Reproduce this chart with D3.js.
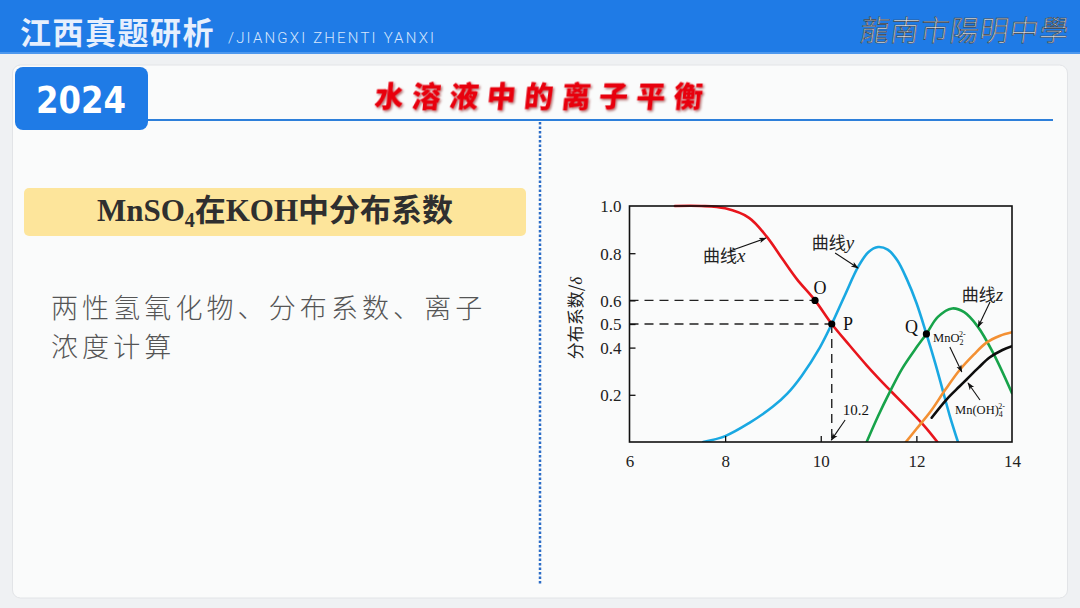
<!DOCTYPE html>
<html><head><meta charset="utf-8">
<script src="https://cdn.jsdelivr.net/npm/d3@7"></script>
<style>
html,body{margin:0;padding:0;background:#eff1f3;}
svg{display:block;}
</style></head>
<body>
<svg id="c" width="1080" height="608"></svg>
<script>
// ---------- DATA ----------
const xTicks = [6, 8, 10, 12, 14];
const yTicks = [0.2, 0.4, 0.5, 0.6, 0.8, 1.0];

const curveX_pH = [6.95, 7.5, 8.0, 8.5, 8.87, 9.2, 9.5, 9.88, 10.23, 10.6, 10.96, 11.2, 11.48, 11.75, 12.0, 12.2, 12.44];
const curveX_d  = [1.0, 1.0, 0.99, 0.95, 0.87, 0.775, 0.69, 0.6, 0.5, 0.41, 0.325, 0.272, 0.213, 0.157, 0.104, 0.06, 0];

const curveY_pH = [7.54, 8.0, 8.5, 9.0, 9.3, 9.6, 9.98, 10.23, 10.5, 10.79, 11.0, 11.2, 11.4, 11.6, 11.8, 12.0, 12.21, 12.4, 12.55, 12.7, 12.87];
const curveY_d  = [0, 0.025, 0.08, 0.15, 0.205, 0.28, 0.40, 0.5, 0.62, 0.745, 0.805, 0.826, 0.815, 0.77, 0.69, 0.59, 0.458, 0.33, 0.22, 0.11, 0];

const curveZ_pH = [10.96, 11.2, 11.44, 11.7, 12.0, 12.21, 12.45, 12.75, 13.0, 13.28, 13.6, 14.0];
const curveZ_d  = [0, 0.11, 0.21, 0.31, 0.40, 0.458, 0.53, 0.566, 0.55, 0.49, 0.38, 0.207];

const mno2_pH = [11.78, 12.0, 12.3, 12.6, 12.91, 13.2, 13.46, 13.75, 14.0];
const mno2_d  = [0, 0.055, 0.13, 0.22, 0.306, 0.37, 0.42, 0.45, 0.465];

const mnoh4_pH = [12.32, 12.63, 12.9, 13.05, 13.3, 13.53, 13.8, 14.0];
const mnoh4_d  = [0.103, 0.18, 0.235, 0.265, 0.315, 0.358, 0.39, 0.406];

const pointNames = ["O", "P", "Q"];
const point_pH = [9.88, 10.23, 12.21];
const point_d  = [0.6, 0.5, 0.458];

// ---------- PAGE ----------
const svg = d3.select("#c");
const CJK = "'Noto Sans CJK SC','Noto Sans CJK TC',sans-serif";
const SERIF = "'Liberation Serif','Times New Roman','Noto Serif CJK SC','Noto Sans CJK SC',serif";

svg.append("rect").attr("x",0).attr("y",0).attr("width",1080).attr("height",608).attr("fill","#eff1f3");
// header
svg.append("rect").attr("x",0).attr("y",0).attr("width",1080).attr("height",54).attr("fill","#1f7be6");
svg.append("rect").attr("x",0).attr("y",52).attr("width",1080).attr("height",2).attr("fill","#4d98ee");
svg.append("text").attr("x",20).attr("y",44).attr("font-family",CJK).attr("font-weight",700)
  .attr("font-size",31).attr("letter-spacing",1.5).attr("fill","#e6effd").text("江西真题研析");
svg.append("text").attr("x",228).attr("y",43).attr("font-family","Roboto,'Noto Sans',sans-serif").attr("font-weight",300)
  .attr("font-size",15).attr("fill","#d6e6fc").attr("textLength",206).attr("lengthAdjust","spacing").text("/JIANGXI ZHENTI YANXI");
svg.append("text").attr("x",860).attr("y",41).attr("font-family","'Noto Sans CJK TC',serif").attr("font-weight",300)
  .attr("font-size",29).attr("fill","#e3e6ea").attr("stroke","#3a3f48").attr("stroke-width",0.6)
  .attr("textLength",208).attr("lengthAdjust","spacing")
  .attr("transform","skewX(-8) translate(5,0)").text("龍南市陽明中學");

// card
svg.append("rect").attr("x",12.5).attr("y",65).attr("width",1055).attr("height",533).attr("rx",8)
  .attr("fill","#fafbfb").attr("stroke","#e2e4e7").attr("stroke-width",1);
// year tab
svg.append("rect").attr("x",15).attr("y",67).attr("width",133).attr("height",63).attr("rx",8).attr("fill","#1f7be6");
svg.append("text").attr("x",36).attr("y",113).attr("font-family","'DejaVu Sans',sans-serif").attr("font-weight",700)
  .attr("font-size",37).attr("fill","#ffffff").attr("textLength",90).attr("lengthAdjust","spacingAndGlyphs").text("2024");
svg.append("line").attr("x1",148).attr("x2",1053).attr("y1",120).attr("y2",120).attr("stroke","#2d7fda").attr("stroke-width",2.2);

// red title
const defs = svg.append("defs");
const f = defs.append("filter").attr("id","sh").attr("x","-10%").attr("y","-20%").attr("width","130%").attr("height","150%");
f.append("feDropShadow").attr("dx",1.5).attr("dy",1.5).attr("stdDeviation",0.8).attr("flood-color","#7a0000").attr("flood-opacity",0.55);
svg.append("text").attr("x",374).attr("y",107).attr("font-family",CJK).attr("font-weight",900)
  .attr("font-size",29).attr("fill","#e8000e").attr("filter","url(#sh)")
  .attr("textLength",328).attr("lengthAdjust","spacing")
  .attr("transform","skewX(-6) translate(11,0)").text("水溶液中的离子平衡");

// dotted divider
svg.append("line").attr("x1",540).attr("x2",540).attr("y1",122).attr("y2",585)
  .attr("stroke","#2b6cc6").attr("stroke-width",2.5).attr("stroke-dasharray","2.5,2");

// yellow box
svg.append("rect").attr("x",24).attr("y",188).attr("width",502).attr("height",48).attr("rx",5).attr("fill","#fde59b");
const yt = svg.append("text").attr("x",275).attr("y",221).attr("text-anchor","middle")
  .attr("font-family",SERIF).attr("font-weight",700).attr("font-size",31).attr("fill","#2f2f2f");
yt.append("tspan").text("MnSO");
yt.append("tspan").attr("font-size",20).attr("dy",6).text("4");
yt.append("tspan").attr("dy",-6).attr("font-family","'Noto Sans CJK SC',serif").attr("font-size",31).text("在");
yt.append("tspan").text("KOH");
yt.append("tspan").attr("font-family","'Noto Sans CJK SC',serif").attr("font-size",31).text("中分布系数");

// body text (two lines)
const bodyLines = ["两性氢氧化物、分布系数、离子", "浓度计算"];
bodyLines.forEach((s,i)=>{
  svg.append("text").attr("x",51).attr("y",318 + i*39).attr("font-family",CJK).attr("font-weight",300)
    .attr("font-size",27).attr("letter-spacing",4.1).attr("fill","#555").text(s);
});

// ---------- CHART ----------
const x = d3.scaleLinear().domain([6,14]).range([629.5,1012]);
const y = d3.scaleLinear().domain([0,1]).range([442,206]);
const g = svg.append("g");

defs.append("clipPath").attr("id","plot").append("rect")
  .attr("x",x(6)).attr("y",y(1)-2).attr("width",x(14)-x(6)).attr("height",y(0)-y(1)+2);
defs.append("marker").attr("id","arr").attr("viewBox","0 0 10 10").attr("refX",9).attr("refY",5)
  .attr("markerWidth",7).attr("markerHeight",7).attr("orient","auto-start-reverse")
  .append("path").attr("d","M0,1.5 L10,5 L0,8.5 L2.5,5 Z").attr("fill","#111");

// dashed guides
const dash = {stroke:"#222","stroke-width":1.4,"stroke-dasharray":"9,6"};
function dline(x1,y1,x2,y2){
  const l = g.append("line").attr("x1",x(x1)).attr("y1",y(y1)).attr("x2",x(x2)).attr("y2",y(y2));
  Object.entries(dash).forEach(([k,v])=>l.attr(k,v));
}
dline(6, point_d[0], point_pH[0], point_d[0]);
dline(6, point_d[1], point_pH[1], point_d[1]);
dline(point_pH[1], point_d[1], point_pH[1], 0);

// curves
const line = d3.line().x(d=>x(d[0])).y(d=>y(d[1])).curve(d3.curveCatmullRom.alpha(0.5));
const series = [
  [curveX_pH, curveX_d, "#e8151c"],
  [curveY_pH, curveY_d, "#19a8e2"],
  [curveZ_pH, curveZ_d, "#17a34a"],
  [mno2_pH, mno2_d, "#f39033"],
  [mnoh4_pH, mnoh4_d, "#0d0d0d"]
];
const cg = g.append("g").attr("clip-path","url(#plot)");
series.forEach(([px,py,col])=>{
  cg.append("path").datum(px.map((v,i)=>[v,py[i]])).attr("d",line)
    .attr("fill","none").attr("stroke",col).attr("stroke-width",2.6).attr("stroke-linecap","round");
});

// axes
const ax = g.append("g").attr("transform",`translate(0,${y(0)})`)
  .call(d3.axisBottom(x).tickValues(xTicks).tickSize(-6).tickPadding(10).tickFormat(d3.format("d")));
const ay = g.append("g").attr("transform",`translate(${x(6)},0)`)
  .call(d3.axisLeft(y).tickValues(yTicks).tickSize(-6).tickPadding(8).tickFormat(d3.format(".1f")));
[ax,ay].forEach(a=>{
  a.select(".domain").remove();
  a.selectAll(".tick line").attr("stroke","#111").attr("stroke-width",1.3);
  a.selectAll(".tick text").attr("font-family",SERIF).attr("font-size",17).attr("fill","#222");
});
ax.selectAll(".tick").filter(d=>d===6||d===14).select("line").remove();
ay.selectAll(".tick").filter(d=>d===1.0).select("line").remove();
ax.selectAll(".tick text").attr("dy","0.9em");
ay.selectAll(".tick text").attr("dy","0.35em");

// frame
g.append("rect").attr("x",x(6)).attr("y",y(1)).attr("width",x(14)-x(6)).attr("height",y(0)-y(1))
  .attr("fill","none").attr("stroke","#111").attr("stroke-width",1.6);

// y title
const yl = g.append("text").attr("transform",`translate(582,318) rotate(-90)`).attr("text-anchor","middle")
  .attr("font-family","'Noto Sans CJK SC',serif").attr("font-size",17).attr("fill","#222");
yl.append("tspan").text("分布系数/");
yl.append("tspan").attr("font-family",SERIF).attr("font-style","italic").text("δ");

// points
point_pH.forEach((p,i)=>{
  g.append("circle").attr("cx",x(p)).attr("cy",y(point_d[i])).attr("r",3.6).attr("fill","#000");
});
const ptLabelPos = [[9.985,0.627],[10.57,0.475],[11.9,0.462]];
pointNames.forEach((n,i)=>{
  g.append("text").attr("x",x(ptLabelPos[i][0])).attr("y",y(ptLabelPos[i][1])).attr("text-anchor","middle")
    .attr("font-family",SERIF).attr("font-size",18).attr("fill","#111").text(n);
});

// curve labels
function curveLabel(pos, letter){
  const t = g.append("text").attr("x",x(pos[0])).attr("y",y(pos[1]))
    .attr("font-family","'Noto Sans CJK SC',serif").attr("font-size",17).attr("fill","#222");
  t.append("tspan").text("曲线");
  t.append("tspan").attr("font-family",SERIF).attr("font-style","italic").attr("font-size",19).text(letter);
}
curveLabel([7.535,0.763],"x");
curveLabel([9.81,0.818],"y");
curveLabel([12.95,0.597],"z");

g.append("text").attr("x",x(10.46)).attr("y",y(0.114)).attr("font-family",SERIF).attr("font-size",15)
  .attr("fill","#111").text("10.2");

const t1 = g.append("text").attr("x",x(12.35)).attr("y",y(0.424)).attr("font-family",SERIF).attr("font-size",12.5).attr("fill","#111");
t1.append("tspan").text("MnO");
t1.append("tspan").attr("font-size",8).attr("dy",3).text("2");
t1.append("tspan").attr("font-size",8).attr("dx",-4.5).attr("dy",-8).text("2-");

const t2 = g.append("text").attr("x",x(12.81)).attr("y",y(0.119)).attr("font-family",SERIF).attr("font-size",12.5).attr("fill","#111");
t2.append("tspan").text("Mn(OH)");
t2.append("tspan").attr("font-size",8).attr("dy",3).text("4");
t2.append("tspan").attr("font-size",8).attr("dx",-4.5).attr("dy",-8).text("2-");

// arrows
const arrows = [
  [[8.10,0.809],[8.855,0.864]],
  [[10.30,0.801],[10.78,0.737]],
  [[13.54,0.593],[13.29,0.487]],
  [[12.70,0.403],[12.95,0.297]],
  [[13.33,0.178],[13.08,0.25]],
  [[10.51,0.093],[10.22,0.008]]
];
arrows.forEach(([a,b])=>{
  g.append("line").attr("x1",x(a[0])).attr("y1",y(a[1])).attr("x2",x(b[0])).attr("y2",y(b[1]))
    .attr("stroke","#111").attr("stroke-width",1.1).attr("marker-end","url(#arr)");
});
</script>
</body></html>
